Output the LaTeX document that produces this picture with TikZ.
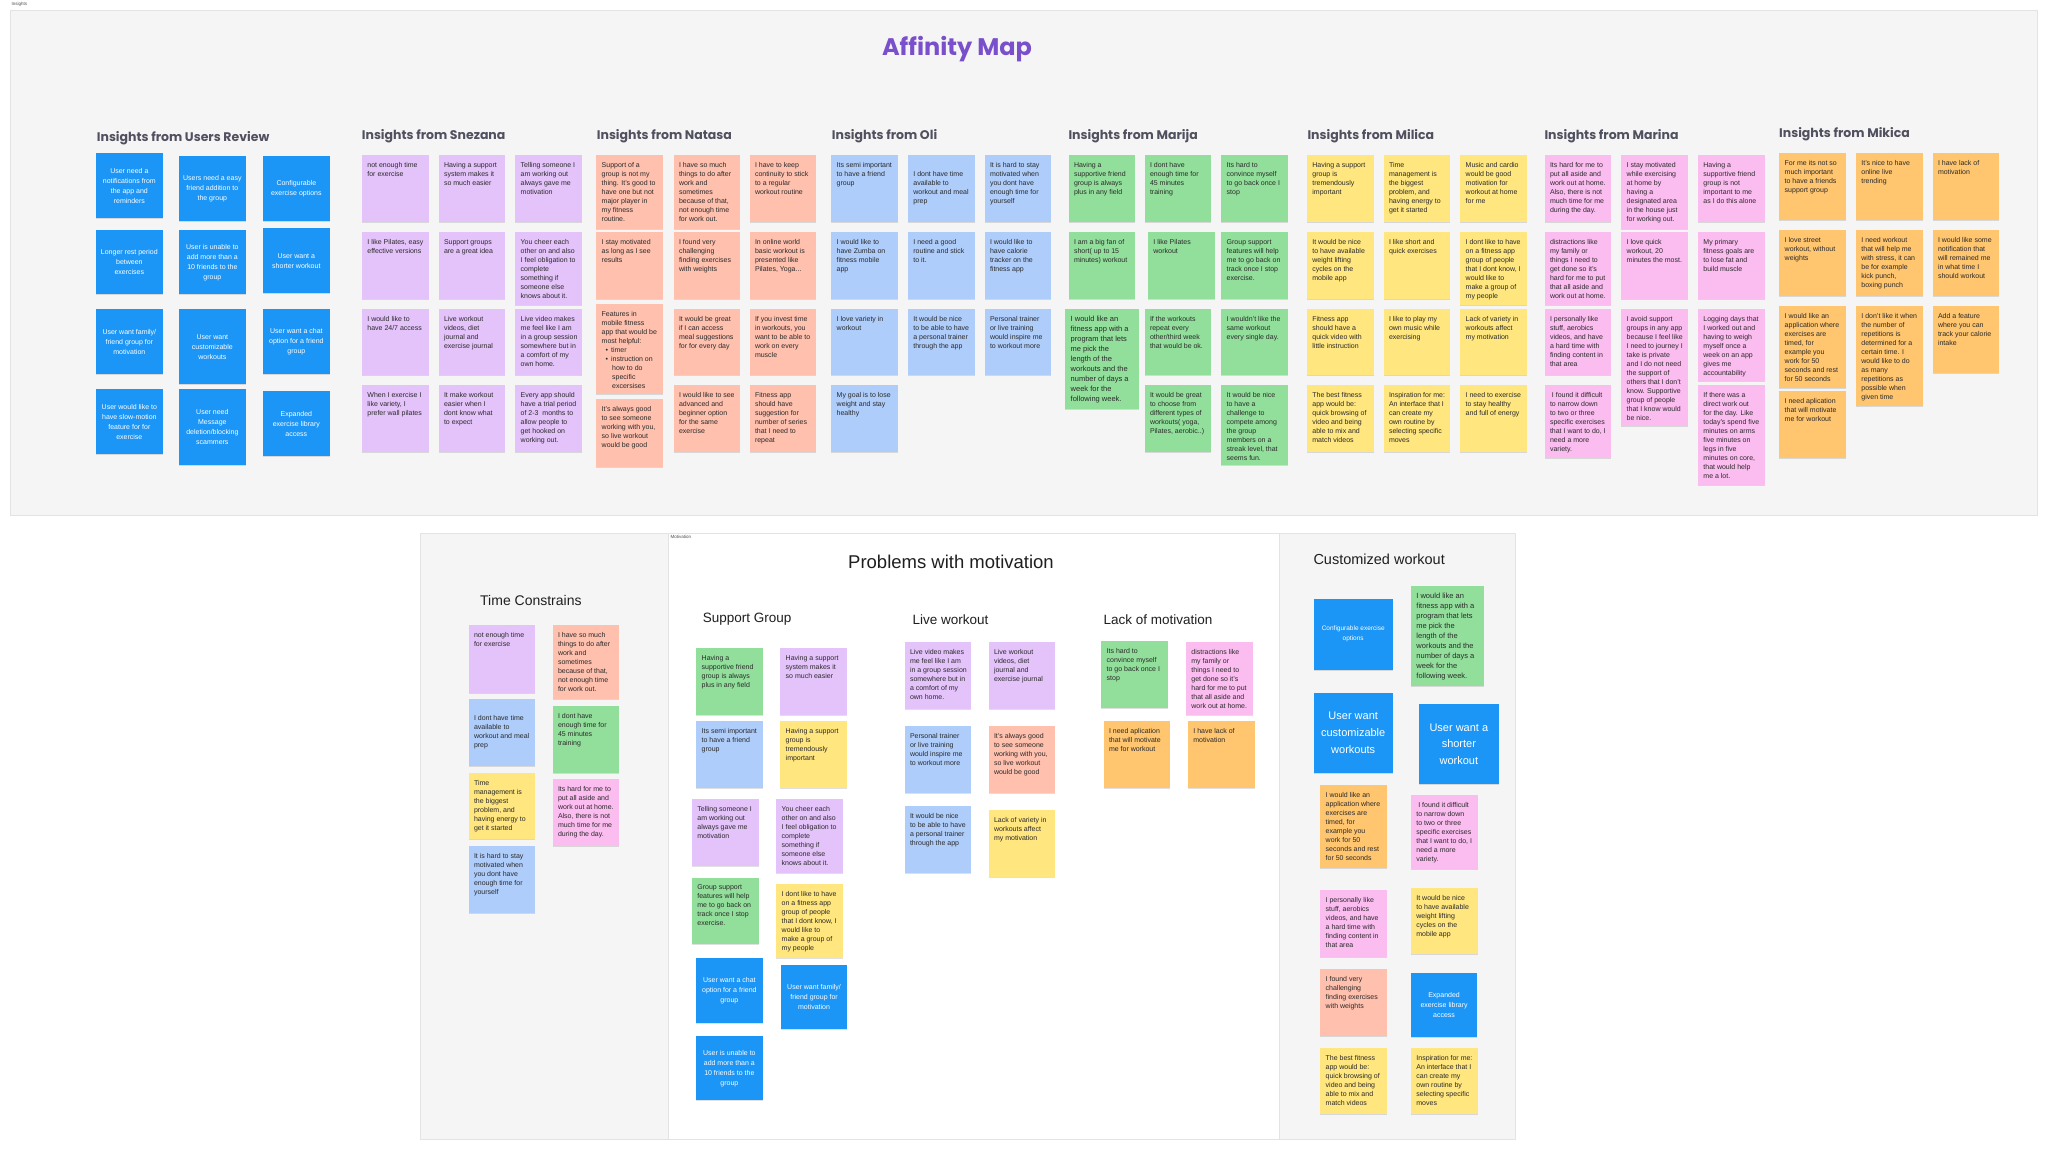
\documentclass[tikz,border=0pt]{standalone}
\usepackage{fontspec}
\setmainfont{Liberation Sans}
\newfontfamily\headfont{Poppins}
\usetikzlibrary{shadows}
\definecolor{userblue}{HTML}{1B95F6}
\definecolor{notepurple}{HTML}{E4C3FB}
\definecolor{notesalmon}{HTML}{FFC0AE}
\definecolor{notelight}{HTML}{AECDFB}
\definecolor{notegreen}{HTML}{92DF9B}
\definecolor{noteyellow}{HTML}{FFE67F}
\definecolor{notepink}{HTML}{FBBCF0}
\definecolor{noteorange}{HTML}{FFC56F}
\definecolor{framegray}{HTML}{F5F5F5}
\definecolor{frameline}{HTML}{E3E3E3}
\definecolor{headgray}{HTML}{50505F}
\definecolor{affpurple}{HTML}{7A4FCB}
\definecolor{notetxt}{HTML}{2A2A2A}
\begin{document}
\begin{tikzpicture}[x=1pt,y=-1pt,line join=round,
  every node/.style={font=\fontsize{7}{9}\selectfont},
  note/.style={anchor=north west,inner sep=0pt,minimum width=66.7,
    drop shadow={shadow xshift=0pt,shadow yshift=-1pt,opacity=.12,fill=black}},
  notetext/.style={anchor=north west,align=left,inner xsep=5.5pt,inner ysep=7.5pt,text=notetxt},
  usernote/.style={note,fill=userblue,text=white,align=center,minimum width=66.3,font=\fontsize{7}{10}\selectfont},
  heading/.style={anchor=west,inner sep=0pt,text=headgray,font=\headfont\bfseries\fontsize{12.5}{15}\selectfont},
  subhead/.style={anchor=west,inner sep=0pt,text=black!88,font=\fontsize{13.5}{16}\selectfont},
  tag/.style={anchor=north west,inner xsep=1.5pt,inner ysep=1pt,fill=white,text=black!70,font=\fontsize{4.5}{5}\selectfont}]

% page and frames
\useasboundingbox[fill=white] (0,0) rectangle (2048,1151);
\draw[fill=framegray,draw=frameline] (10,10) rectangle (2037,515);
\node[tag] (insights) at (10,1) {Insights};
\draw[fill=framegray,draw=frameline] (420,533) rectangle (668,1139);
\draw[fill=white,draw=frameline] (668,533) rectangle (1279,1139);
\draw[fill=framegray,draw=frameline] (1279,533) rectangle (1515,1139);
\node[tag] (motivation) at (669,534) {Motivation};

\node[anchor=center,inner sep=0pt,text=affpurple,font=\headfont\bfseries\fontsize{24}{28}\selectfont] (title) at (957,49.5) {Affinity Map};

% headings of the insight columns
\foreach \n/\x/\y/\txt in {hu/96.7/138/{Insights from Users Review},hs/361.7/136.5/{Insights from Snezana},
  hn/596.7/136.5/{Insights from Natasa},ho/831.7/136.5/{Insights from Oli},hm/1068.3/136.5/{Insights from Marija},
  hi/1307.3/136.5/{Insights from Milica},hr/1544.3/136.5/{Insights from Marina},hk/1779/134/{Insights from Mikica}}{
  \node[heading] (\n) at (\x,\y) {\txt};
}

% users review
\foreach \n/\x/\y/\h/\txt in {
  u1/96/153/65/{User need a\\notifications from\\the app and\\reminders},
  u2/179/156/65/{Users need a easy\\friend addition to\\the group},
  u3/263/156/65/{Configurable\\exercise options},
  u4/96/230/64/{Longer rest period\\between\\exercises},
  u5/179/230/64/{User is unable to\\add more than a\\10 friends to the\\group},
  u6/263/228/65/{User want a\\shorter workout},
  u7/96/309/65/{User want family/\\friend group for\\motivation},
  u8/179/309/75/{User want\\customizable\\workouts},
  u9/263/309/65/{User want a chat\\option for a friend\\group},
  u10/96/389/65/{User would like to\\have slow-motion\\feature for for\\exercise},
  u11/179/389/76/{User need\\Message\\deletion/blocking\\scammers},
  u12/263/391/65/{Expanded\\exercise library\\access}}{
  \node[usernote,minimum height=\h] (\n) at (\x,\y) {\txt};
}

% Snezana
\foreach \n/\x/\y/\h/\txt in {
  s1/361.7/155/66.7/{not enough time\\for exercise},
  s2/438.3/155/66.7/{Having a support\\system makes it\\so much easier},
  s3/515/155/66.7/{Telling someone I\\am working out\\always gave me\\motivation},
  s4/361.7/231.7/66.7/{I like Pilates, easy\\effective versions},
  s5/438.3/231.7/66.7/{Support groups\\are a great idea},
  s6/515/231.7/73.3/{You cheer each\\other on and also\\I feel obligation to\\complete\\something if\\someone else\\knows about it.},
  s7/361.7/308.3/66.7/{I would like to\\have 24/7 access},
  s8/438.3/308.3/66.7/{Live workout\\videos, diet\\journal and\\exercise journal},
  s9/515/308.3/66.7/{Live video makes\\me feel like I am\\in a group session\\somewhere but in\\a comfort of my\\own home.},
  s10/361.7/385/66.7/{When I exercise I\\like variety, I\\prefer wall pilates},
  s11/438.3/385/66.7/{It make workout\\easier when I\\dont know what\\to expect},
  s12/515/385/66.7/{Every app should\\have a trial period\\of 2-3~ months to\\allow people to\\get hooked on\\working out.}}{
  \node[note,fill=notepurple,minimum height=\h] (\n) at (\x,\y) {};
  \node[notetext] (\n-t) at (\n.north west) {\txt};
}

% Natasa
\foreach \n/\x/\y/\h/\txt in {
  n1/596/155/73.3/{Support of a\\group is not my\\thing. It's good to\\have one but not\\major player in\\my fitness\\routine.},
  n2/673.3/155/73.3/{I have so much\\things to do after\\work and\\sometimes\\because of that,\\not enough time\\for work out.},
  n3/749.3/155/66.7/{I have to keep\\continuity to stick\\to a regular\\workout routine},
  n4/596/231.7/66.7/{I stay motivated\\as long as I see\\results},
  n5/673.3/231.7/66.7/{I found very\\challenging\\finding exercises\\with weights},
  n6/749.3/231.7/66.7/{In online world\\basic workout is\\presented like\\Pilates, Yoga...},
  n7/596/303.3/90/{Features in\\mobile fitness\\app that would be\\most helpful:\\\hspace*{4pt}\textbullet\hspace{3pt}timer\\\hspace*{4pt}\textbullet\hspace{3pt}instruction on\\\hspace*{10.5pt}how to do\\\hspace*{10.5pt}specific\\\hspace*{10.5pt}excersises},
  n8/673.3/308.3/66.7/{It would be great\\if I can access\\meal suggestions\\for for every day},
  n9/749.3/308.3/66.7/{If you invest time\\in workouts, you\\want to be able to\\work on every\\muscle},
  n10/596/399/67.7/{It's always good\\to see someone\\working with you,\\so live workout\\would be good},
  n11/673.3/385/66.7/{I would like to see\\advanced and\\beginner option\\for the same\\exercise},
  n12/749.3/385/66.7/{Fitness app\\should have\\suggestion for\\number of series\\that I need to\\repeat}}{
  \node[note,fill=notesalmon,minimum height=\h] (\n) at (\x,\y) {};
  \node[notetext] (\n-t) at (\n.north west) {\txt};
}

% Oli
\foreach \n/\x/\y/\h/\txt in {
  o1/831/155/66.7/{Its semi important\\to have a friend\\group},
  o2/907.7/155/66.7/{\mbox{}\\[4.5pt]I dont have time\\available to\\workout and meal\\prep},
  o3/984.3/155/66.7/{It is hard to stay\\motivated when\\you dont have\\enough time for\\yourself},
  o4/831/231.7/66.7/{I would like to\\have Zumba on\\fitness mobile\\app},
  o5/907.7/231.7/66.7/{I need a good\\routine and stick\\to it.},
  o6/984.3/231.7/66.7/{I would like to\\have calorie\\tracker on the\\fitness app},
  o7/831/308.3/66.7/{I love variety in\\workout},
  o8/907.7/308.3/66.7/{It would be nice\\to be able to have\\a personal trainer\\through the app},
  o9/984.3/308.3/66.7/{Personal trainer\\or live training\\would inspire me\\to workout more},
  o10/831/385/66.7/{My goal is to lose\\weight and stay\\healthy}}{
  \node[note,fill=notelight,minimum height=\h] (\n) at (\x,\y) {};
  \node[notetext] (\n-t) at (\n.north west) {\txt};
}

% Marija
\foreach \n/\x/\y/\h/\txt in {
  m1/1068.3/155/66.7/{Having a\\supportive friend\\group is always\\plus in any field},
  m2/1144.3/155/66.7/{I dont have\\enough time for\\45 minutes\\training},
  m3/1221/155/66.7/{Its hard to\\convince myself\\to go back once I\\stop},
  m4/1068.3/231.7/66.7/{I am a big fan of\\short( up to 15\\minutes) workout},
  m5/1147.7/231.7/66.7/{I like Pilates\\workout},
  m6/1221/231.7/66.7/{Group support\\features will help\\me to go back on\\track once I stop\\exercise.},
  m8/1144.3/308.3/66.7/{If the workouts\\repeat every\\other/third week\\that would be ok.},
  m9/1221/308.3/66.7/{I wouldn't like the\\same workout\\every single day.},
  m10/1144.3/385/66.7/{It would be great\\to choose from\\different types of\\workouts( yoga,\\Pilates, aerobic..)},
  m11/1221/385/80/{It would be nice\\to have a\\challenge to\\compete among\\the group\\members on a\\streak level, that\\seems fun.}}{
  \node[note,fill=notegreen,minimum height=\h] (\n) at (\x,\y) {};
  \node[notetext] (\n-t) at (\n.north west) {\txt};
}
\node[note,fill=notegreen,minimum width=73.3,minimum height=100] (m7) at (1065,308.3) {};
\node[notetext,font=\fontsize{7.5}{10}\selectfont] (m7-t) at (m7.north west) {I would like an\\fitness app with a\\program that lets\\me pick the\\length of the\\workouts and the\\number of days a\\week for the\\following week.};

% Milica
\foreach \n/\x/\y/\h/\txt in {
  i1/1306.7/155/66.7/{Having a support\\group is\\tremendously\\important},
  i2/1383.3/155/66.7/{Time\\management is\\the biggest\\problem, and\\having energy to\\get it started},
  i3/1460/155/66.7/{Music and cardio\\would be good\\motivation for\\workout at home\\for me},
  i4/1306.7/231.7/66.7/{It would be nice\\to have available\\weight lifting\\cycles on the\\mobile app},
  i5/1383.3/231.7/66.7/{I like short and\\quick exercises},
  i6/1460/231.7/72.7/{I dont like to have\\on a fitness app\\group of people\\that I dont know, I\\would like to\\make a group of\\my people},
  i7/1306.7/308.3/66.7/{Fitness app\\should have a\\quick video with\\little instruction},
  i8/1383.3/308.3/66.7/{I like to play my\\own music while\\exercising},
  i9/1460/308.3/66.7/{Lack of variety in\\workouts affect\\my motivation},
  i10/1306.7/385/66.7/{The best fitness\\app would be:\\quick browsing of\\video and being\\able to mix and\\match videos},
  i11/1383.3/385/66.7/{Inspiration for me:\\An interface that I\\can create my\\own routine by\\selecting specific\\moves},
  i12/1460/385/66.7/{I need to exercise\\to stay healthy\\and full of energy}}{
  \node[note,fill=noteyellow,minimum height=\h] (\n) at (\x,\y) {};
  \node[notetext] (\n-t) at (\n.north west) {\txt};
}

% Marina
\foreach \n/\x/\y/\h/\txt in {
  r1/1544.3/155/66.7/{Its hard for me to\\put all aside and\\work out at home.\\Also, there is not\\much time for me\\during the day.},
  r2/1621/155/73.3/{I stay motivated\\while exercising\\at home by\\having a\\designated area\\in the house just\\for working out.},
  r3/1697.7/155/66.7/{Having a\\supportive friend\\group is not\\important to me\\as I do this alone},
  r4/1544.3/231.7/72.7/{distractions like\\my family or\\things I need to\\get done so it's\\hard for me to put\\that all aside and\\work out at home.},
  r5/1621/231.7/66.7/{I love quick\\workout, 20\\minutes the most.},
  r6/1697.7/231.7/66.7/{My primary\\fitness goals are\\to lose fat and\\build muscle},
  r7/1544.3/308.3/66/{I personally like\\stuff, aerobics\\videos, and have\\a hard time with\\finding content in\\that area},
  r8/1621/308.3/117.3/{I avoid support\\groups in any app\\because I feel like\\I need to journey I\\take is private\\and I do not need\\the support of\\others that I don't\\know. Supportive\\group of people\\that I know would\\be nice.},
  r9/1697.7/308.3/72.7/{Logging days that\\I worked out and\\having to weigh\\myself once a\\week on an app\\gives me\\accountability},
  r10/1544.3/385/72.7/{~I found it difficult\\to narrow down\\to two or three\\specific exercises\\that I want to do, I\\need a more\\variety.},
  r11/1697.7/385/100/{If there was a\\direct work out\\for the day. Like\\today's spend five\\minutes on arms\\five minutes on\\legs in five\\minutes on core,\\that would help\\me a lot.}}{
  \node[note,fill=notepink,minimum height=\h] (\n) at (\x,\y) {};
  \node[notetext] (\n-t) at (\n.north west) {\txt};
}

% Mikica
\foreach \n/\x/\y/\h/\txt in {
  k1/1779/152.7/66.7/{For me its not so\\much important\\to have a friends\\support group},
  k2/1855.7/152.7/66.7/{It's nice to have\\online live\\trending},
  k3/1932.3/152.7/66.7/{I have lack of\\motivation},
  k4/1779/229.3/66.7/{I love street\\workout, without\\weights},
  k5/1855.7/229.3/66.7/{I need workout\\that will help me\\with stress, it can\\be for example\\kick punch,\\boxing punch},
  k6/1932.3/229.3/66.7/{I would like some\\notification that\\will remained me\\in what time I\\should workout},
  k7/1779/306/81.7/{I would like an\\application where\\exercises are\\timed, for\\example you\\work for 50\\seconds and rest\\for 50 seconds},
  k8/1855.7/306/100/{I don't like it when\\the number of\\repetitions is\\determined for a\\certain time. I\\would like to do\\as many\\repetitions as\\possible when\\given time},
  k9/1932.3/306/66.7/{Add a feature\\where you can\\track your calorie\\intake},
  k10/1779/391/66.7/{I need aplication\\that will motivate\\me for workout}}{
  \node[note,fill=noteorange,minimum height=\h] (\n) at (\x,\y) {};
  \node[notetext] (\n-t) at (\n.north west) {\txt};
}

% motivation board
\node[anchor=center,inner sep=0pt,text=black!88,font=\fontsize{18.5}{22}\selectfont] (problems) at (951,562) {Problems with motivation};
\node[subhead,font=\fontsize{14}{17}\selectfont] (time) at (480,600) {Time Constrains};
\node[subhead] (support) at (702.7,619.3) {Support Group};
\node[subhead] (live) at (912.3,619.3) {Live workout};
\node[subhead] (lack) at (1103.3,619.3) {Lack of motivation};
\node[subhead,font=\fontsize{14.5}{17}\selectfont] (custom) at (1313.3,559.3) {Customized workout};

\foreach \n/\x/\y/\h/\c/\txt in {
  t1/468.3/625/67.3/notepurple/{not enough time\\for exercise},
  t2/468.3/699/66.7/notelight/{\mbox{}\\[4.5pt]I dont have time\\available to\\workout and meal\\prep},
  t3/468.3/772.3/66.7/noteyellow/{Time\\management is\\the biggest\\problem, and\\having energy to\\get it started},
  t4/468.3/845.7/66.7/notelight/{It is hard to stay\\motivated when\\you dont have\\enough time for\\yourself},
  t5/552.3/625/74/notesalmon/{I have so much\\things to do after\\work and\\sometimes\\because of that,\\not enough time\\for work out.},
  t6/552.3/705.7/66.7/notegreen/{I dont have\\enough time for\\45 minutes\\training},
  t7/552.3/779/66.7/notepink/{Its hard for me to\\put all aside and\\work out at home.\\Also, there is not\\much time for me\\during the day.},
  g1/696/647.7/66.7/notegreen/{Having a\\supportive friend\\group is always\\plus in any field},
  g2/780/647.7/66.7/notepurple/{Having a support\\system makes it\\so much easier},
  g3/696/721/66.7/notelight/{Its semi important\\to have a friend\\group},
  g4/780/721/66.7/noteyellow/{Having a support\\group is\\tremendously\\important},
  g5/691.7/799/66.7/notepurple/{Telling someone I\\am working out\\always gave me\\motivation},
  g6/776/799/73.3/notepurple/{You cheer each\\other on and also\\I feel obligation to\\complete\\something if\\someone else\\knows about it.},
  g7/691.7/877.3/66.7/notegreen/{Group support\\features will help\\me to go back on\\track once I stop\\exercise.},
  g8/776/884/73.3/noteyellow/{I dont like to have\\on a fitness app\\group of people\\that I dont know, I\\would like to\\make a group of\\my people},
  w1/904.3/641.7/66.7/notepurple/{Live video makes\\me feel like I am\\in a group session\\somewhere but in\\a comfort of my\\own home.},
  w2/988.3/641.7/66.7/notepurple/{Live workout\\videos, diet\\journal and\\exercise journal},
  w3/904.3/726/66.7/notelight/{Personal trainer\\or live training\\would inspire me\\to workout more},
  w4/988.3/726/66.7/notesalmon/{It's always good\\to see someone\\working with you,\\so live workout\\would be good},
  w5/904.3/806/66.7/notelight/{It would be nice\\to be able to have\\a personal trainer\\through the app},
  w6/988.3/810/66.7/noteyellow/{Lack of variety in\\workouts affect\\my motivation},
  l1/1101/641/66.7/notegreen/{Its hard to\\convince myself\\to go back once I\\stop},
  l2/1185.7/641.7/73.3/notepink/{distractions like\\my family or\\things I need to\\get done so it's\\hard for me to put\\that all aside and\\work out at home.},
  l3/1103.3/721/66.7/noteorange/{I need aplication\\that will motivate\\me for workout},
  l4/1187.7/721/66.7/noteorange/{I have lack of\\motivation},
  c5/1320/784.3/83.3/noteorange/{I would like an\\application where\\exercises are\\timed, for\\example you\\work for 50\\seconds and rest\\for 50 seconds},
  c6/1410.7/795/73.3/notepink/{~I found it difficult\\to narrow down\\to two or three\\specific exercises\\that I want to do, I\\need a more\\variety.},
  c7/1320/890/66.7/notepink/{I personally like\\stuff, aerobics\\videos, and have\\a hard time with\\finding content in\\that area},
  c8/1410.7/887.3/66.7/noteyellow/{It would be nice\\to have available\\weight lifting\\cycles on the\\mobile app},
  c9/1320/969/66.7/notesalmon/{I found very\\challenging\\finding exercises\\with weights},
  c11/1320/1047.3/66.7/noteyellow/{The best fitness\\app would be:\\quick browsing of\\video and being\\able to mix and\\match videos},
  c12/1410.7/1047.3/66.7/noteyellow/{Inspiration for me:\\An interface that I\\can create my\\own routine by\\selecting specific\\moves}}{
  \node[note,fill=\c,minimum height=\h] (\n) at (\x,\y) {};
  \node[notetext] (\n-t) at (\n.north west) {\txt};
}

\foreach \n/\x/\y/\h/\txt in {
  g9/696/957.7/64.7/{User want a chat\\option for a friend\\group},
  g10/780.7/964.3/64/{User want family/\\friend group for\\motivation},
  g11/696/1036/64/{User is unable to\\add more than a\\10 friends to the\\group},
  c10/1410.7/972.3/64.3/{Expanded\\exercise library\\access}}{
  \node[usernote,minimum height=\h] (\n) at (\x,\y) {\txt};
}
\node[usernote,minimum width=79.4,minimum height=71,font=\fontsize{6.5}{10}\selectfont] (c1) at (1313.3,598.3) {Configurable exercise\\options};
\node[usernote,minimum width=79.4,minimum height=80,font=\fontsize{11}{16.7}\selectfont] (c3) at (1313.3,692.7) {User want\\customizable\\workouts};
\node[usernote,minimum width=80.7,minimum height=80,font=\fontsize{11}{16.7}\selectfont] (c4) at (1418.3,704) {User want a\\shorter\\workout};
\node[note,fill=notegreen,minimum width=73.3,minimum height=100] (c2) at (1410.7,585.7) {};
\node[notetext,font=\fontsize{7.5}{10}\selectfont] (c2-t) at (c2.north west) {I would like an\\fitness app with a\\program that lets\\me pick the\\length of the\\workouts and the\\number of days a\\week for the\\following week.};
\end{tikzpicture}
\end{document}
